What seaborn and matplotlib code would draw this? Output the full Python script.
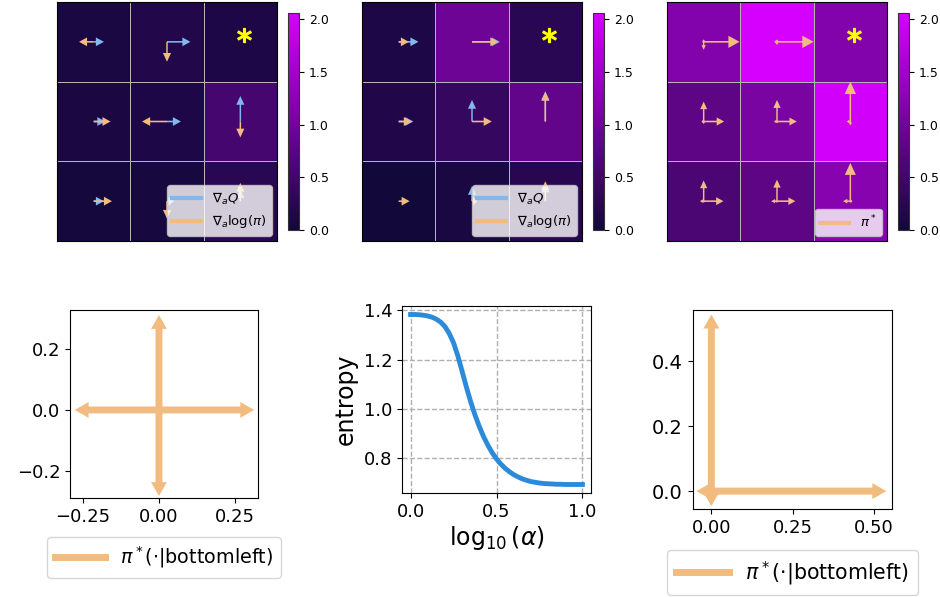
import numpy as np
import pandas as pd
import matplotlib
matplotlib.use("Agg")
import matplotlib.pyplot as plt
from matplotlib.lines import Line2D
import seaborn as sns

# ---------------- data ----------------
# heat-map values (rows top->bottom, cols left->right)
vals_grad = [[0.08, 0.18, 0.13], [0.10, 0.13, 0.55], [0.02, 0.05, 0.25]]
vals_mid = [[0.13, 0.95, 0.25], [0.16, 0.38, 0.85], [0.00, 0.08, 0.23]]
vals_opt = [[1.18, 2.06, 1.18], [0.80, 1.08, 2.00], [0.60, 0.80, 1.23]]

# gradient vectors (x: right positive, y: up positive), cell units
gradQ_u_1 = [[0.14, 0.32, 0.0], [0.16, 0.19, 0.0], [0.14, 0.10, 0.0]]
gradQ_v_1 = [[0.0, 0.0, 0.0], [0.0, 0.0, 0.32], [0.0, 0.0, 0.15]]
gradlog_u_1 = [[-0.20, 0.0, 0.0], [0.23, -0.34, 0.0], [0.25, 0.0, 0.0]]
gradlog_v_1 = [[0.0, -0.25, 0.0], [0.0, 0.0, -0.20], [0.0, -0.22, 0.23]]

gradQ_u_2 = [[0.27, 0.38, 0.0], [0.20, 0.0, 0.0], [0.0, 0.0, 0.0]]
gradQ_v_2 = [[0.0, 0.0, 0.0], [0.0, 0.27, 0.38], [0.0, 0.19, 0.22]]
gradlog_u_2 = [[0.14, 0.36, 0.0], [0.18, 0.27, 0.0], [0.15, 0.07, 0.0]]
gradlog_v_2 = [[0.0, 0.0, 0.0], [0.0, 0.0, 0.37], [0.0, 0.0, 0.25]]

# optimal policy probabilities per cell (right, up, left, down)
pstar_right = [[0.49, 0.50, 0.0], [0.28, 0.27, 0.01], [0.27, 0.25, 0.03]]
pstar_up = [[0.03, 0.03, 0.0], [0.25, 0.27, 0.50], [0.26, 0.27, 0.48]]
pstar_left = [[0.02, 0.04, 0.0], [0.03, 0.04, 0.05], [0.05, 0.08, 0.10]]
pstar_down = [[0.10, 0.04, 0.0], [0.03, 0.02, 0.05], [0.02, 0.02, 0.02]]
goal_cell = (0, 2)

# pi*(.|bottomleft): right, up, left, down
pi_bl_a = [0.267, 0.266, 0.231, 0.237]
pi_bl_b = [0.495, 0.500, 0.003, 0.003]

# entropy vs log10(alpha)
log_alpha = [0.000, 0.025, 0.050, 0.075, 0.100, 0.125, 0.150, 0.175, 0.200, 0.225,
             0.250, 0.275, 0.300, 0.325, 0.350, 0.375, 0.400, 0.425, 0.450, 0.475,
             0.500, 0.525, 0.550, 0.575, 0.600, 0.625, 0.650, 0.675, 0.700, 0.725,
             0.750, 0.775, 0.800, 0.825, 0.850, 0.875, 0.900, 0.925, 0.950, 0.975,
             1.000]
entropy = [1.383, 1.383, 1.382, 1.380, 1.377, 1.372, 1.364, 1.352, 1.334, 1.306,
           1.268, 1.215, 1.152, 1.088, 1.028, 0.975, 0.928, 0.887, 0.852, 0.822,
           0.797, 0.776, 0.759, 0.745, 0.733, 0.724, 0.716, 0.710, 0.705, 0.702,
           0.699, 0.697, 0.696, 0.695, 0.694, 0.694, 0.693, 0.693, 0.693, 0.693,
           0.693]

# ---------------- style ----------------
BLUE = "#82b8ee"
ORANGE = "#f2bb80"
LINE_BLUE = "#2b8ad9"
W, H = 940, 597
fig = plt.figure(figsize=(W / 100, H / 100), dpi=100)


def rect(x0, y0, x1, y1):
    return [x0 / W, 1 - y1 / H, (x1 - x0) / W, (y1 - y0) / H]


cmap = sns.blend_palette(["#12083a", "#d600ff"], as_cmap=True)
VMAX = 2.06
DIRS = [(1, 0), (0, 1), (-1, 0), (0, -1)]


def heat(ax, cax, vals):
    sns.heatmap(pd.DataFrame(vals), ax=ax, cbar_ax=cax, cmap=cmap, vmin=0, vmax=VMAX,
                linewidths=0.7, linecolor="#b5b5b5", xticklabels=False, yticklabels=False)
    ax.set_xlabel("")
    ax.set_ylabel("")
    for s in ax.spines.values():
        s.set_visible(True)
        s.set_color("black")
        s.set_linewidth(0.8)
    cb = ax.collections[0].colorbar
    cb.outline.set_visible(True)
    cb.outline.set_linewidth(0.8)
    cb.outline.set_edgecolor("#333333")
    cb.set_ticks([0.0, 0.5, 1.0, 1.5, 2.0])
    cb.set_ticklabels(["0.0", "0.5", "1.0", "1.5", "2.0"])
    cax.tick_params(labelsize=9, length=3.5, width=0.8)
    gi, gj = goal_cell
    ax.plot([gj + 0.55], [gi + 0.42], marker="$*$", color="yellow", ms=10, ls="none")


def vec(ax, U, V, color, hw=0.11, hl=0.11):
    for i in range(3):
        for j in range(3):
            u, v = U[i][j], V[i][j]
            L = float(np.hypot(u, v))
            if L == 0:
                continue
            ax.arrow(j + 0.5, i + 0.5, u, -v, width=0.02, head_width=hw,
                     head_length=min(hl, 0.8 * L), length_includes_head=True,
                     color=color, lw=0)


def top_legend(ax, colors, labels):
    handles = [Line2D([0], [0], color=c, lw=3) for c in colors]
    ax.legend(handles, labels, loc="lower right", fontsize=9.5, handlelength=2.2,
              framealpha=0.8, edgecolor="#cccccc", borderaxespad=0.4)


# panel 1
ax1 = fig.add_axes(rect(57, 2, 277, 241))
cax1 = fig.add_axes(rect(288, 13, 299, 230))
heat(ax1, cax1, vals_grad)
vec(ax1, gradQ_u_1, gradQ_v_1, BLUE)
vec(ax1, gradlog_u_1, gradlog_v_1, ORANGE)
top_legend(ax1, [BLUE, ORANGE], [r"$\nabla_a Q$", r"$\nabla_a \log(\pi)$"])

# panel 2
ax2 = fig.add_axes(rect(362, 2, 582, 241))
cax2 = fig.add_axes(rect(593, 13, 604, 230))
heat(ax2, cax2, vals_mid)
vec(ax2, gradQ_u_2, gradQ_v_2, BLUE)
vec(ax2, gradlog_u_2, gradlog_v_2, ORANGE)
top_legend(ax2, [BLUE, ORANGE], [r"$\nabla_a Q$", r"$\nabla_a \log(\pi)$"])

# panel 3
ax3 = fig.add_axes(rect(667, 2, 887, 241))
cax3 = fig.add_axes(rect(898, 13, 909, 230))
heat(ax3, cax3, vals_opt)
for P, (dx, dy) in zip([pstar_right, pstar_up, pstar_left, pstar_down], DIRS):
    for i in range(3):
        for j in range(3):
            p = P[i][j]
            if p <= 0:
                continue
            h = 0.035 + 0.24 * p
            ax3.arrow(j + 0.5, i + 0.5, dx * p, -dy * p, width=0.02, head_width=h,
                      head_length=min(h, 0.75 * p), length_includes_head=True,
                      color=ORANGE, lw=0)
top_legend(ax3, [ORANGE], [r"$\pi^*$"])


# bottom panels: policy at bottom-left
def policy_panel(ax, probs, xlim, ylim, xticks, yticks, xfs, yfs, legfs, ppu):
    for p, (dx, dy) in zip(probs, DIRS):
        ax.arrow(0, 0, dx * p, dy * p, width=7 / ppu, head_width=16 / ppu,
                 head_length=14 / ppu, color=ORANGE, lw=0)
    ax.set_xlim(*xlim)
    ax.set_ylim(*ylim)
    ax.set_aspect("equal", adjustable="box")
    ax.set_xticks(xticks)
    ax.set_yticks(yticks)
    ax.tick_params(axis="x", labelsize=xfs)
    ax.tick_params(axis="y", labelsize=yfs)
    h = [Line2D([0], [0], color=ORANGE, lw=5)]
    ax.legend(h, [r"$\pi^*(\cdot|$bottomleft$)$"], loc="upper center",
              bbox_to_anchor=(0.5, -0.207), borderaxespad=0, fontsize=legfs,
              handlelength=2.6)


ax4 = fig.add_axes(rect(69, 310, 259, 498))
policy_panel(ax4, pi_bl_a, (-0.292, 0.325), (-0.289, 0.328),
             [-0.25, 0.0, 0.25], [-0.2, 0.0, 0.2], 13, 13, 13.8, 308)

ax6 = fig.add_axes(rect(692, 310, 893, 509))
policy_panel(ax6, pi_bl_b, (-0.058, 0.557), (-0.055, 0.557),
             [0.0, 0.25, 0.5], [0.0, 0.2, 0.4], 13, 14, 14.8, 326)

# entropy panel
ax5 = fig.add_axes(rect(402, 306, 591, 493))
df = pd.DataFrame({"log_alpha": log_alpha, "entropy": entropy})
sns.lineplot(data=df, x="log_alpha", y="entropy", ax=ax5, color=LINE_BLUE, lw=3.5)
ax5.grid(True, ls="--", color="#b0b0b0", lw=1)
ax5.set_axisbelow(True)
ax5.set_xticks([0.0, 0.5, 1.0])
ax5.set_yticks([0.8, 1.0, 1.2, 1.4])
ax5.tick_params(labelsize=13)
ax5.set_xlabel(r"$\log_{10}(\alpha)$", fontsize=17, labelpad=2)
ax5.set_ylabel("entropy", fontsize=17, labelpad=4)

fig.savefig("out.png", dpi=100)
